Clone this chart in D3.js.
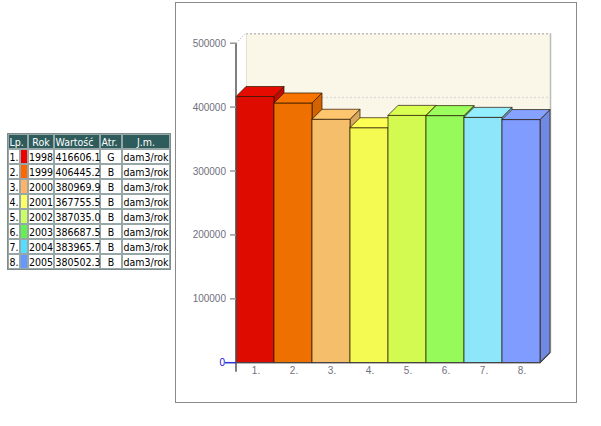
<!DOCTYPE html>
<html><head><meta charset="utf-8">
<script src="https://cdn.jsdelivr.net/npm/d3@7"></script>
<style>html,body{margin:0;padding:0;background:#fff;}svg{display:block;}</style>
</head><body>
<svg id="c" width="601" height="426"></svg>
<script>
const lp = ["1.","2.","3.","4.","5.","6.","7.","8."];
const years = ["1998","1999","2000","2001","2002","2003","2004","2005"];
const values = [416606.1,406445.2,380969.9,367755.5,387035.0,386687.5,383965.7,380502.3];
const valueLabels = ["416606.1","406445.2","380969.9","367755.5","387035.0","386687.5","383965.7","380502.3"];
const attrs = ["G","B","B","B","B","B","B","B"];
const units = ["dam3/rok","dam3/rok","dam3/rok","dam3/rok","dam3/rok","dam3/rok","dam3/rok","dam3/rok"];
const headers = ["Lp.","Rok","Wartość","Atr.","J.m."];
const yTicks = [0,100000,200000,300000,400000,500000];
const barColors = ["#DD0B00","#EE7000","#F4BE6A","#F5FA52","#D2FA50","#96FA5A","#8EE6FA","#809CFF"];
const swatchColors = ["#EE0000","#FF6600","#FFB366","#FFFF66","#CCFF66","#66EE55","#55DDFF","#6699FF"];

const svg = d3.select("#c");
const font = "Liberation Sans, Arial, sans-serif";
const tfont = "DejaVu Sans Condensed, DejaVu Sans, sans-serif";

// ---------- table ----------
const colX = [9,21,29,55,101,123];
const colW = [10,6,24,44,20,46];
const rowH = 15, tTop = 135;
const tg = svg.append("g");
tg.append("rect").attr("x",7.5).attr("y",133.5).attr("width",163).attr("height",136)
  .attr("fill","#97A6A6").attr("stroke","#7F8C8C");
// header row (Lp. spans number + swatch columns)
const hX = [9,29,55,101,123], hW = [18,24,44,20,46];
const hAlign = ["start","middle","start","start","middle"];
headers.forEach((h,ci)=>{
  tg.append("rect").attr("x",hX[ci]).attr("y",tTop).attr("width",hW[ci]).attr("height",13).attr("fill","#2E5C5C");
  tg.append("text").attr("x",hAlign[ci]==="start"?hX[ci]+0.5:hX[ci]+hW[ci]/2).attr("y",tTop+10.5)
    .attr("text-anchor",hAlign[ci]).attr("font-family",tfont).attr("font-size",10.5).attr("fill","#fff").text(h);
});
const aligns = ["start","middle","middle","start","middle","start"];
d3.range(8).forEach(i=>{
  const r = [lp[i],"",years[i],valueLabels[i],attrs[i],units[i]];
  const y = tTop + (i+1)*rowH;
  r.forEach((t,ci)=>{
    tg.append("rect").attr("x",colX[ci]).attr("y",y).attr("width",colW[ci]).attr("height",13)
      .attr("fill",ci===1?swatchColors[i]:"#FFFFFF");
    if(t){
      const a = aligns[ci];
      tg.append("text").attr("x",a==="start"?colX[ci]+0.5:colX[ci]+colW[ci]/2).attr("y",y+10.5)
        .attr("text-anchor",a).attr("font-family",tfont).attr("font-size",10.5).attr("fill","#000").text(t);
    }
  });
});

// ---------- chart frame ----------
svg.append("rect").attr("x",175.5).attr("y",2.5).attr("width",401).attr("height",400)
  .attr("fill","#fff").attr("stroke","#8A8A8A");

const dx = 10, dy = 10;
const y = d3.scaleLinear().domain([0,500000]).range([362.7,43.2]);
const x = d3.scaleBand().domain(d3.range(8)).range([236,540]).padding(0);
const x0 = x.range()[0], x1 = x.range()[1];

// back wall
svg.append("rect").attr("x",x0+dx).attr("y",y(500000)-dy).attr("width",x1-x0).attr("height",y(0)-y(500000))
  .attr("fill","#FAF7E8");
yTicks.filter(t=>t>0).forEach(t=>{
  svg.append("line").attr("x1",x0+dx).attr("x2",x1+dx).attr("y1",y(t)-dy+0.5).attr("y2",y(t)-dy+0.5)
    .attr("stroke", t===500000?"#BBBBBB":"#DDDDDD").attr("stroke-dasharray","2,2").attr("stroke-width",1.5);
});
svg.append("line").attr("x1",x1+dx+0.5).attr("x2",x1+dx+0.5).attr("y1",y(500000)-dy).attr("y2",y(0)-dy)
  .attr("stroke","#BBBBBB").attr("stroke-width",1.5);
svg.append("line").attr("x1",x0+dx+0.5).attr("x2",x0+dx+0.5).attr("y1",y(500000)-dy).attr("y2",y(0)-dy)
  .attr("stroke","#E4E0D0");
svg.append("line").attr("x1",x0).attr("x2",x0+dx).attr("y1",y(500000)).attr("y2",y(500000)-dy)
  .attr("stroke","#BBBBBB").attr("stroke-dasharray","1.5,1.5");

// bars
const bg = svg.append("g");
values.forEach((v,i)=>{
  const bx = x(i), bw = x.bandwidth(), by = y(v), b0 = y(0);
  const c = d3.color(barColors[i]);
  const stroke = "rgba(40,20,0,0.7)";
  bg.append("path").attr("d",`M${bx+bw},${by}L${bx+bw+dx},${by-dy}L${bx+bw+dx},${b0-dy}L${bx+bw},${b0}Z`)
    .attr("fill",c.darker(0.35)).attr("stroke",stroke).attr("stroke-width",1).attr("stroke-linejoin","round");
  bg.append("rect").attr("x",bx).attr("y",by).attr("width",bw).attr("height",b0-by)
    .attr("fill",c).attr("stroke",stroke).attr("stroke-width",1);
  bg.append("path").attr("d",`M${bx},${by}L${bx+dx},${by-dy}L${bx+bw+dx},${by-dy}L${bx+bw},${by}Z`)
    .attr("fill",c.brighter(0.1)).attr("stroke",stroke).attr("stroke-width",1).attr("stroke-linejoin","round");
});

// floor lines
svg.append("path").attr("d",`M${x0},${y(0)}L${x1},${y(0)}L${x1+dx},${y(0)-dy}`)
  .attr("fill","none").attr("stroke","#444").attr("stroke-width",1.2);

// y axis
svg.append("line").attr("x1",x0).attr("x2",x0).attr("y1",y(500000)).attr("y2",y(0)+9)
  .attr("stroke","#555").attr("stroke-width",1.5);
const ya = svg.append("g");
yTicks.forEach(t=>{
  const isZero = t===0;
  ya.append("line").attr("x1",isZero?x0-11:x0-6).attr("x2",x0).attr("y1",y(t)).attr("y2",y(t))
    .attr("stroke",isZero?"#3030D0":"#999").attr("stroke-width",1.5);
  ya.append("text").attr("x",isZero?x0-11:x0-10).attr("y",y(t)+3.5).attr("text-anchor","end")
    .attr("font-family",font).attr("font-size",10).attr("fill",isZero?"#1010E0":"#707080").text(t);
});

// x labels
lp.forEach((l,i)=>{
  svg.append("text").attr("x",x(i)+x.bandwidth()/2+1).attr("y",y(0)+11).attr("text-anchor","middle")
    .attr("font-family",font).attr("font-size",10).attr("fill","#707080").text(l);
});
</script>
</body></html>
